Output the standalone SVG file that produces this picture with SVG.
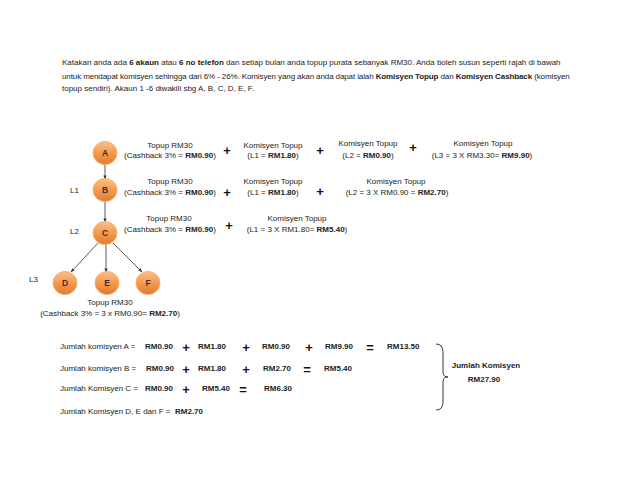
<svg xmlns="http://www.w3.org/2000/svg" width="638" height="493" viewBox="0 0 638 493">
<style>
text{font-family:"Liberation Sans",Arial,sans-serif;font-size:8px;fill:#222}
.c{text-anchor:middle}
.b{font-weight:bold}
.op{font-size:13px;font-weight:bold;text-anchor:middle;fill:#111}
.nl{font-size:8.5px;font-weight:bold;text-anchor:middle;fill:#333}
.node{fill:url(#og);stroke:#f6b072;stroke-width:1}
.edge{stroke:#333;stroke-width:0.8;fill:none;marker-end:url(#ah)}
</style>
<defs>
<linearGradient id="og" x1="0" y1="0" x2="0" y2="1">
<stop offset="0" stop-color="#fbc088"/>
<stop offset="0.5" stop-color="#f49a4e"/>
<stop offset="1" stop-color="#e07a30"/>
</linearGradient>
<marker id="ah" viewBox="0 0 10 10" refX="9" refY="5" markerWidth="5" markerHeight="5" orient="auto">
<path d="M0,1 L10,5 L0,9 z" fill="#333"/>
</marker>
</defs>
<rect width="638" height="493" fill="#fff"/>

<g id="intro">
<text x="62" y="65">Katakan anda ada <tspan class="b">6 akaun</tspan> atau <tspan class="b">6 no telefon</tspan> dan setiap bulan anda topup purata sebanyak RM30. Anda boleh susun seperti rajah di bawah</text>
<text x="62" y="79" letter-spacing="-0.11">untuk mendapat komisyen sehingga dari 6% - 26%. Komisyen yang akan anda dapat ialah <tspan class="b">Komisyen Topup</tspan> dan <tspan class="b">Komisyen Cashback</tspan> (komisyen</text>
<text x="62" y="91">topup sendiri). Akaun 1 -6 diwakili sbg A, B, C, D, E, F.</text>
</g>

<g id="connectors">
<line class="edge" x1="105" y1="165" x2="105" y2="179"/>
<line class="edge" x1="105" y1="202" x2="105" y2="222"/>
<line class="edge" x1="98" y1="243" x2="71" y2="272"/>
<line class="edge" x1="106" y1="245" x2="106" y2="272"/>
<line class="edge" x1="113" y1="243" x2="142" y2="272"/>
</g>

<g id="node-A"><ellipse class="node" cx="105" cy="153" rx="12" ry="11.5"/><text class="nl" x="105" y="156">A</text></g>
<g id="node-B"><ellipse class="node" cx="105" cy="190" rx="12" ry="11.5"/><text class="nl" x="105" y="193">B</text></g>
<g id="node-C"><ellipse class="node" cx="105" cy="233" rx="12" ry="11.5"/><text class="nl" x="105" y="236">C</text></g>
<g id="node-D"><ellipse class="node" cx="65" cy="283" rx="12" ry="11.5"/><text class="nl" x="65" y="286">D</text></g>
<g id="node-E"><ellipse class="node" cx="107" cy="283" rx="12" ry="11.5"/><text class="nl" x="107" y="286">E</text></g>
<g id="node-F"><ellipse class="node" cx="148" cy="283" rx="12" ry="11.5"/><text class="nl" x="148" y="286">F</text></g>

<g id="levels">
<text x="70" y="193">L1</text>
<text x="70" y="234">L2</text>
<text x="29" y="282">L3</text>
</g>

<g id="row-A">
<text class="c" x="170" y="148">Topup RM30</text>
<text class="c" x="170" y="158">(Cashback 3% = <tspan class="b">RM0.90</tspan>)</text>
<text class="op" x="227" y="155">+</text>
<text class="c" x="273" y="148">Komisyen Topup</text>
<text class="c" x="273" y="158">(L1 = <tspan class="b">RM1.80</tspan>)</text>
<text class="op" x="320" y="155">+</text>
<text class="c" x="368" y="146">Komisyen Topup</text>
<text class="c" x="368" y="158">(L2 = <tspan class="b">RM0.90</tspan>)</text>
<text class="op" x="413" y="152">+</text>
<text class="c" x="483" y="146">Komisyen Topup</text>
<text class="c" x="482" y="158">(L3 = 3 X RM3.30=  <tspan class="b">RM9.90</tspan>)</text>
</g>

<g id="row-B">
<text class="c" x="170" y="184">Topup RM30</text>
<text class="c" x="170" y="195">(Cashback 3% = <tspan class="b">RM0.90</tspan>)</text>
<text class="op" x="227" y="197">+</text>
<text class="c" x="273" y="184">Komisyen Topup</text>
<text class="c" x="273" y="195">(L1 = <tspan class="b">RM1.80</tspan>)</text>
<text class="op" x="320" y="196">+</text>
<text class="c" x="396" y="184">Komisyen Topup</text>
<text class="c" x="397" y="195">(L2 = 3 X RM0.90 = <tspan class="b">RM2.70</tspan>)</text>
</g>

<g id="row-C">
<text class="c" x="169" y="221">Topup RM30</text>
<text class="c" x="170" y="232">(Cashback 3% = <tspan class="b">RM0.90</tspan>)</text>
<text class="op" x="229" y="230">+</text>
<text class="c" x="297" y="221">Komisyen Topup</text>
<text class="c" x="297" y="232">(L1 = 3 X RM1.80= <tspan class="b">RM5.40</tspan>)</text>
</g>

<g id="row-DEF">
<text class="c" x="110" y="305">Topup RM30</text>
<text class="c" x="110" y="316">(Cashback 3% = 3 x RM0.90= <tspan class="b">RM2.70</tspan>)</text>
</g>

<g id="totals">
<text x="60" y="349">Jumlah komisyen A =</text>
<text class="b" x="145" y="349">RM0.90</text>
<text class="op" x="186" y="352">+</text>
<text class="b" x="198" y="349">RM1.80</text>
<text class="op" x="246" y="352">+</text>
<text class="b" x="262" y="349">RM0.90</text>
<text class="op" x="309" y="352">+</text>
<text class="b" x="325" y="349">RM9.90</text>
<text class="op" x="370" y="352">=</text>
<text class="b" x="387" y="349">RM13.50</text>

<text x="60" y="371">Jumlah komisyen B =</text>
<text class="b" x="146" y="371">RM0.90</text>
<text class="op" x="186" y="374">+</text>
<text class="b" x="198" y="371">RM1.80</text>
<text class="op" x="246" y="374">+</text>
<text class="b" x="263" y="371">RM2.70</text>
<text class="op" x="307" y="374">=</text>
<text class="b" x="324" y="371">RM5.40</text>

<text x="60" y="391">Jumlah Komisyen C =</text>
<text class="b" x="145" y="391">RM0.90</text>
<text class="op" x="186" y="394">+</text>
<text class="b" x="202" y="391">RM5.40</text>
<text class="op" x="243" y="394">=</text>
<text class="b" x="264" y="391">RM6.30</text>

<text x="60" y="414">Jumlah Komisyen D, E dan F =</text>
<text class="b" x="175" y="414">RM2.70</text>

<path d="M436,344 Q443,344 443,352 L443,372 Q443,377 448,377 Q443,377 443,382 L443,402 Q443,410 436,410" fill="none" stroke="#222" stroke-width="0.9"/>
<text class="c b" x="486" y="368">Jumlah Komisyen</text>
<text class="c b" x="484" y="382">RM27.90</text>
</g>
</svg>
